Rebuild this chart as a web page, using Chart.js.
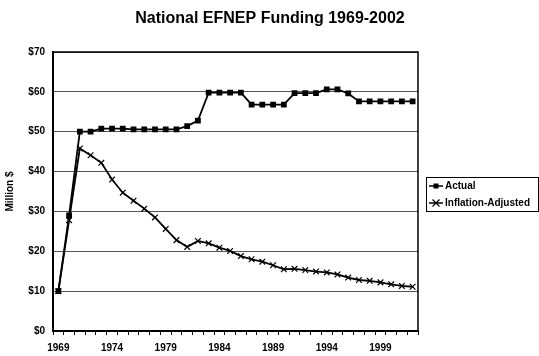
<!DOCTYPE html>
<html>
<head>
<meta charset="utf-8">
<script src="https://cdn.jsdelivr.net/npm/chart.js@4"></script>
<style>
  body { margin: 0; background: #fff; }
  #wrap { width: 539px; height: 356px; }
</style>
</head>
<body>
<div id="wrap"><canvas id="myChart1" width="539" height="356"></canvas></div>
<script>
// years on the x axis
const years = [];
for (let y = 1969; y <= 2002; y++) years.push(String(y));

// millions of dollars
const actual = [10, 29, 50, 50, 50.8, 50.8, 50.8, 50.6, 50.6, 50.6, 50.6, 50.6,
  51.4, 52.8, 59.8, 59.8, 59.8, 59.8, 56.8, 56.8, 56.8, 56.8, 59.7, 59.7, 59.7,
  60.6, 60.6, 59.6, 57.6, 57.6, 57.6, 57.6, 57.6, 57.6];
const inflationAdjusted = [10, 27.8, 45.8, 44.1, 42.2, 38.0, 34.7, 32.7, 30.7,
  28.5, 25.6, 22.8, 21.1, 22.6, 22.0, 20.9, 20.1, 18.8, 18.0, 17.4, 16.5, 15.5,
  15.6, 15.3, 14.9, 14.7, 14.2, 13.4, 12.8, 12.6, 12.2, 11.7, 11.3, 11.1];

const chartTitle = 'National EFNEP Funding 1969-2002';
const fontFamily = "'Liberation Sans', Arial, sans-serif";
const labelFont = "bold 10px " + fontFamily;

// title, plot frame (top + right) and the boxed legend on the right
const framePlugin = {
  id: 'frame',
  afterDraw(chart) {
    const ctx = chart.ctx;
    const a = chart.chartArea;
    ctx.save();
    ctx.fillStyle = '#000';
    ctx.font = "bold 16px " + fontFamily;
    ctx.textAlign = 'center';
    ctx.textBaseline = 'middle';
    ctx.fillText(chartTitle, 270, 19);

    ctx.strokeStyle = '#000';
    ctx.lineWidth = 1.5;
    ctx.beginPath();
    ctx.moveTo(a.left, a.top);
    ctx.lineTo(a.right, a.top);
    ctx.lineTo(a.right, a.bottom);
    ctx.stroke();

    // legend
    const lx = 426, ly = 177, lw = 112, lh = 34;
    ctx.lineWidth = 1;
    ctx.strokeRect(lx + 0.5, ly + 0.5, lw, lh);
    ctx.font = labelFont;
    ctx.textAlign = 'left';
    chart.data.datasets.forEach((ds, i) => {
      const cy = ly + 9 + i * 17;
      ctx.lineWidth = 1.5;
      ctx.beginPath();
      ctx.moveTo(lx + 3, cy);
      ctx.lineTo(lx + 17, cy);
      ctx.stroke();
      if (ds.pointStyle === 'rect') {
        ctx.fillRect(lx + 7.5, cy - 2.5, 5, 5);
      } else {
        ctx.lineWidth = 1.2;
        ctx.beginPath();
        ctx.moveTo(lx + 6.5, cy - 3.5); ctx.lineTo(lx + 13.5, cy + 3.5);
        ctx.moveTo(lx + 13.5, cy - 3.5); ctx.lineTo(lx + 6.5, cy + 3.5);
        ctx.stroke();
      }
      ctx.fillText(ds.label, lx + 19, cy);
    });
    ctx.restore();
  }
};

const ctx = document.getElementById("myChart1");

new Chart(ctx, {
  type: "line",
  data: {
    labels: years,
    datasets: [
      {
        label: "Actual",
        data: actual,
        borderColor: '#000',
        backgroundColor: '#000',
        borderWidth: 1.8,
        pointStyle: 'rect',
        pointRadius: 2.8,
        tension: 0,
      },
      {
        label: "Inflation-Adjusted",
        data: inflationAdjusted,
        borderColor: '#000',
        backgroundColor: '#000',
        borderWidth: 1.8,
        pointStyle: 'crossRot',
        pointRadius: 4,
        pointBorderWidth: 1.2,
        tension: 0,
      }
    ],
  },
  options: {
    responsive: false,
    animation: false,
    layout: { padding: { left: 4, right: 121, top: 52, bottom: 0 } },
    plugins: {
      legend: { display: false },
      tooltip: { enabled: false },
      title: { display: false },
    },
    scales: {
      x: {
        offset: true,
        afterFit: (s) => { s.height = 25; },
        grid: { drawOnChartArea: false, drawTicks: true, tickLength: 4, color: '#000', offset: true },
        border: { color: '#000', width: 2 },
        ticks: {
          autoSkip: false,
          maxRotation: 0,
          padding: 7,
          color: '#000',
          font: { family: fontFamily, size: 10, weight: 'bold' },
          callback: (v, i) => (i % 5 === 0 ? years[i] : '')
        }
      },
      y: {
        min: 0,
        max: 70,
        afterFit: (s) => { s.width = 49; },
        grid: { color: '#555', lineWidth: 1, drawTicks: false },
        border: { color: '#000', width: 2 },
        ticks: {
          stepSize: 10,
          padding: 8,
          color: '#000',
          font: { family: fontFamily, size: 10, weight: 'bold' },
          callback: (v) => '$' + v
        },
        title: {
          display: true,
          text: 'Million $',
          color: '#000',
          padding: 0,
          font: { family: fontFamily, size: 10, weight: 'bold' }
        }
      }
    }
  },
  plugins: [framePlugin]
});
</script>
</body>
</html>
